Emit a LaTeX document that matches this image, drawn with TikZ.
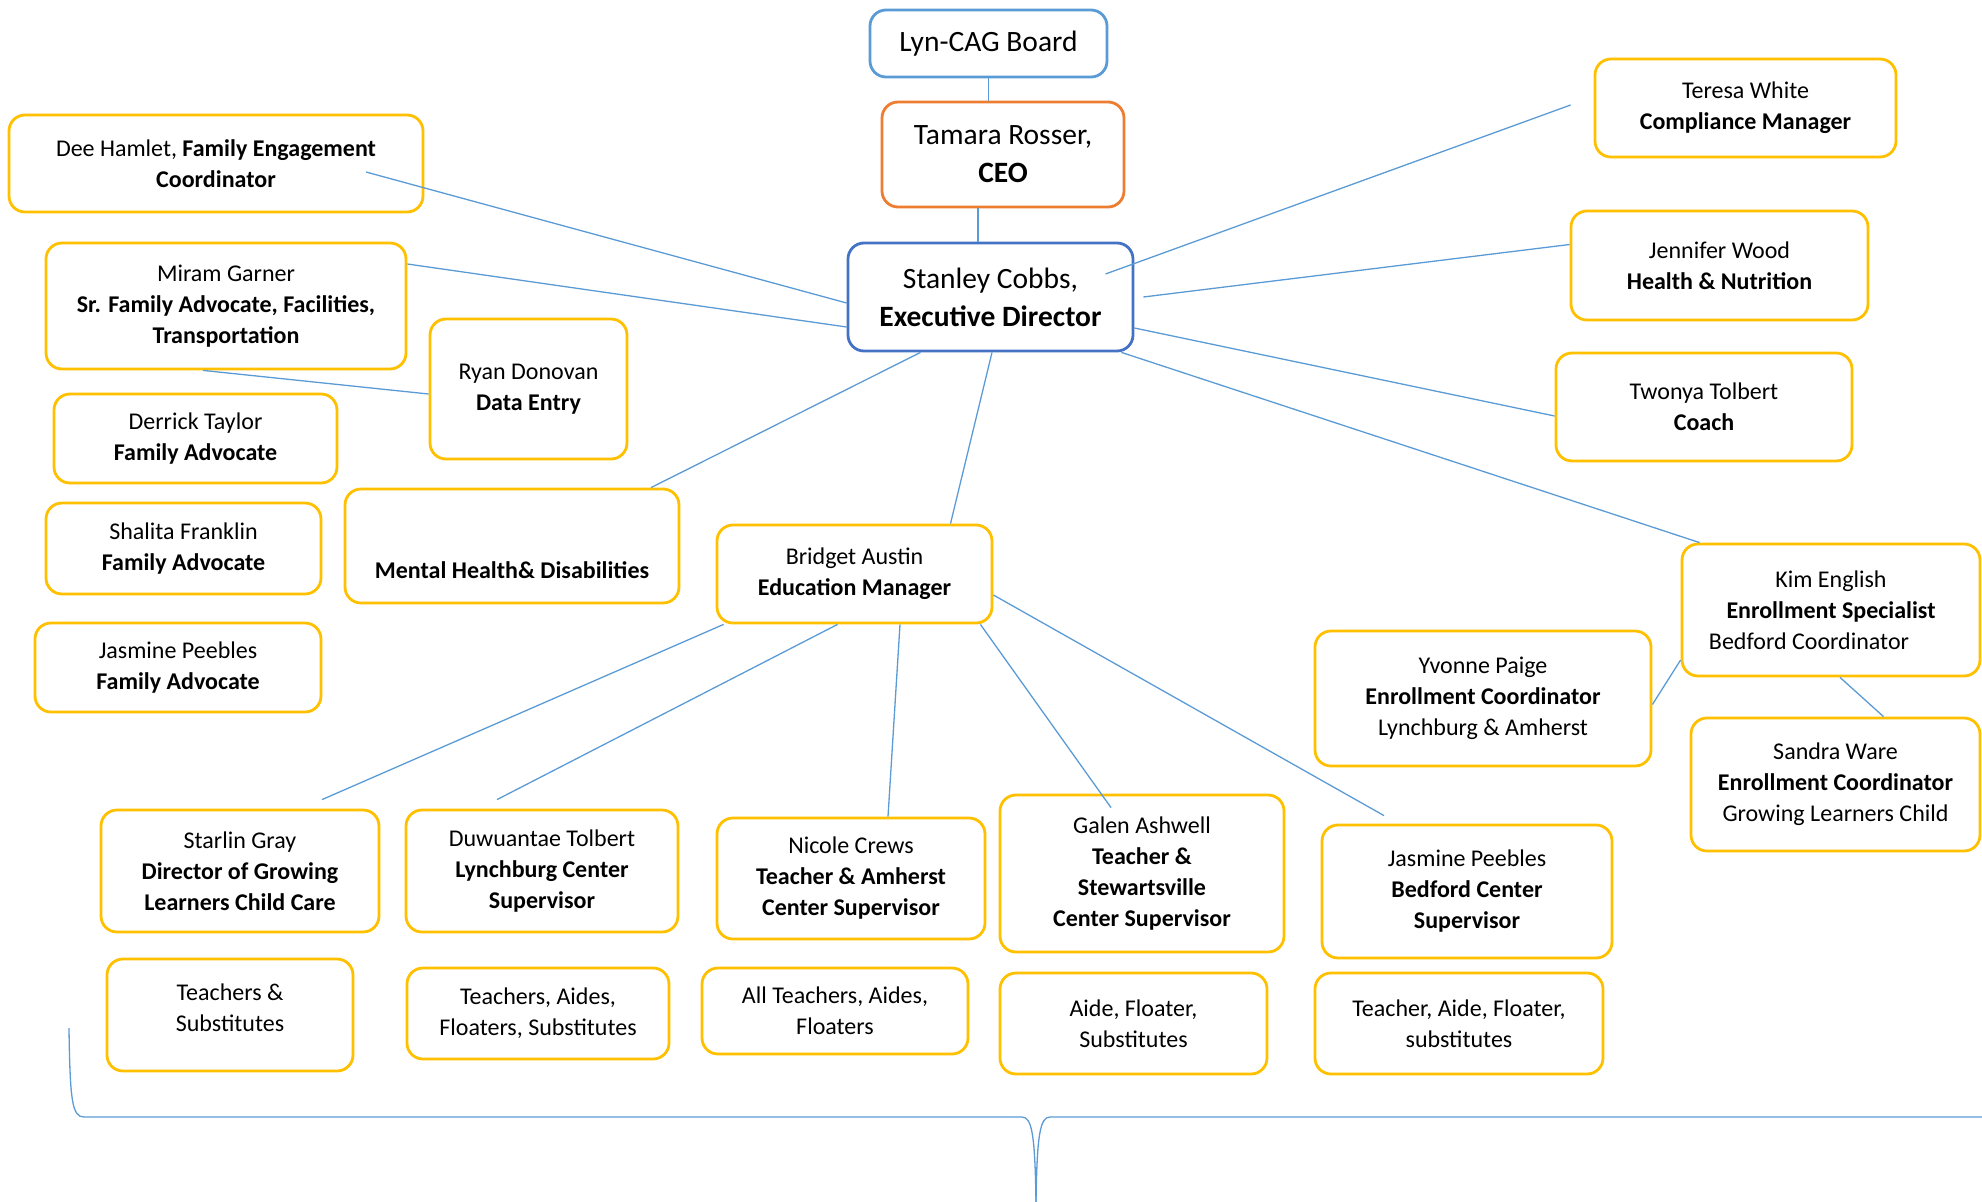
\documentclass[tikz,border=0pt]{standalone}
\usepackage{fontspec}
\setmainfont{Carlito}
\definecolor{gold}{HTML}{FFC000}
\definecolor{linkblue}{HTML}{5B9BD5}
\definecolor{execblue}{HTML}{4472C4}
\definecolor{ceoorange}{HTML}{ED7D31}

\begin{document}
\begin{tikzpicture}[x=1pt,y=-1pt,
  box/.style={draw=gold,line width=2.8pt,rounded corners=16pt,fill=white,align=center,inner sep=0pt,font=\fontsize{24}{31}\selectfont},
  bigbox/.style={box,font=\fontsize{29.5}{38}\selectfont},
  link/.style={draw=linkblue,line width=1.3pt}]
  \useasboundingbox (0,0) rectangle (1982,1202);

  % top of the chart
  \node[bigbox,draw=linkblue,minimum width=237pt,minimum height=67pt] (board) at (988.5,43.5) {Lyn-CAG Board};
  \node[bigbox,draw=ceoorange,minimum width=242pt,minimum height=105pt] (ceo) at (1003,154.5) {Tamara Rosser,\\\textbf{CEO}};
  \node[bigbox,draw=execblue,minimum width=285pt,minimum height=108pt] (exec) at (990.5,297) {Stanley Cobbs,\\\textbf{Executive Director}};

  % left column
  \node[box,minimum width=414pt,minimum height=97pt] (dee) at (216,163.5) {Dee Hamlet, \textbf{Family Engagement}\\\textbf{Coordinator}};
  \node[box,minimum width=360pt,minimum height=126pt] (miram) at (226,306) {Miram Garner\\\textbf{Sr. Family Advocate, Facilities,}\\\textbf{Transportation}};
  \node[box,minimum width=197pt,minimum height=140pt] (ryan) at (528.5,389) {Ryan Donovan\\\textbf{Data Entry}};
  \node[box,minimum width=283pt,minimum height=89pt] (derrick) at (195.5,438.5) {Derrick Taylor\\\textbf{Family Advocate}};
  \node[box,minimum width=275pt,minimum height=91pt] (shalita) at (183.5,548.5) {Shalita Franklin\\\textbf{Family Advocate}};
  \node[box,minimum width=286pt,minimum height=89pt] (jasfa) at (178,667.5) {Jasmine Peebles\\\textbf{Family Advocate}};
  \node[box,minimum width=334pt,minimum height=114pt] (mental) at (512,546) {\mbox{}\\\mbox{}\\[3pt]\textbf{Mental Health\& Disabilities}};

  % right column
  \node[box,minimum width=301pt,minimum height=98pt] (teresa) at (1745.5,108) {Teresa White\\\textbf{Compliance Manager}};
  \node[box,minimum width=297pt,minimum height=109pt] (jennifer) at (1719.5,265.5) {Jennifer Wood\\\textbf{Health \& Nutrition}};
  \node[box,minimum width=296pt,minimum height=108pt] (twonya) at (1704,407) {Twonya Tolbert\\\textbf{Coach}};
  \node[box,minimum width=298pt,minimum height=132pt] (kim) at (1831,610) {Kim English\\\textbf{Enrollment Specialist}\\Bedford Coordinator\hspace*{44pt}};
  \node[box,minimum width=336pt,minimum height=135pt] (yvonne) at (1483,698.5) {Yvonne Paige\\\textbf{Enrollment Coordinator}\\Lynchburg \& Amherst};
  \node[box,minimum width=289pt,minimum height=133pt] (sandra) at (1835.5,784.5) {Sandra Ware\\\textbf{Enrollment Coordinator}\\Growing Learners Child};

  % education
  \node[box,minimum width=275pt,minimum height=98pt] (bridget) at (854.5,574) {Bridget Austin\\\textbf{Education Manager}};
  \node[box,minimum width=278pt,minimum height=122pt] (starlin) at (240,871) {Starlin Gray\\\textbf{Director of Growing}\\\textbf{Learners Child Care}};
  \node[box,minimum width=272pt,minimum height=122pt] (duwu) at (542,871) {Duwuantae Tolbert\\\textbf{Lynchburg Center}\\\textbf{Supervisor}};
  \node[box,minimum width=268pt,minimum height=121pt] (nicole) at (851,878.5) {Nicole Crews\\\textbf{Teacher \& Amherst}\\\textbf{Center Supervisor}};
  \node[box,minimum width=284pt,minimum height=157pt] (galen) at (1142,873.5) {Galen Ashwell\\\textbf{Teacher \&}\\\textbf{Stewartsville}\\\textbf{Center Supervisor}};
  \node[box,minimum width=290pt,minimum height=133pt] (jasbed) at (1467,891.5) {Jasmine Peebles\\\textbf{Bedford Center}\\\textbf{Supervisor}};

  \node[box,minimum width=246pt,minimum height=112pt] (starlinstaff) at (230,1015) {Teachers \&\\Substitutes\\[-16pt]\mbox{}};
  \node[box,minimum width=262pt,minimum height=91pt] (duwustaff) at (538,1013.5) {Teachers, Aides,\\Floaters, Substitutes};
  \node[box,minimum width=266pt,minimum height=86pt] (nicolestaff) at (835,1011) {All Teachers, Aides,\\Floaters};
  \node[box,minimum width=267pt,minimum height=101pt] (galenstaff) at (1133.5,1023.5) {Aide, Floater,\\Substitutes};
  \node[box,minimum width=288pt,minimum height=101pt] (jasbedstaff) at (1459,1023.5) {Teacher, Aide, Floater,\\substitutes};

  % connectors
  \draw[link] (board.south) -- (board.south |- ceo.north);
  \draw[link] ([xshift=-25pt]ceo.south) -- ([xshift=-25pt]ceo.south |- exec.north);
  \draw[link] ([xshift=150pt,yshift=-8.5pt]dee.center) -- ([yshift=-6pt]exec.west);
  \draw[link] ([yshift=42pt]miram.east) -- ([yshift=-30pt]exec.west);
  \draw[link] ([xshift=-23pt]miram.south) -- ([yshift=-5pt]ryan.west);
  \draw[link] ([xshift=-70pt]exec.south) -- ([xshift=139pt]mental.north);
  \draw[link] ([xshift=1.5pt]exec.south) -- ([xshift=96pt]bridget.north);
  \draw[link] ([xshift=115pt,yshift=23pt]exec.center) -- ([xshift=-23pt,yshift=3pt]teresa.west);
  \draw[link] ([xshift=9pt]exec.east) -- ([yshift=21pt]jennifer.west);
  \draw[link] ([yshift=-31pt]exec.east) -- ([yshift=-9pt]twonya.west);
  \draw[link] ([xshift=-13pt]exec.south east) -- ([xshift=19pt]kim.north west);
  \draw[link] ([yshift=-50pt]kim.west) -- ([yshift=-6pt]yvonne.east);
  \draw[link] ([xshift=9pt]kim.south) -- ([xshift=48pt]sandra.north);
  \draw[link] ([xshift=8pt]bridget.south west) -- ([xshift=82pt,yshift=9pt]starlin.north);
  \draw[link] ([xshift=-17pt]bridget.south) -- ([xshift=-45pt,yshift=9pt]duwu.north);
  \draw[link] ([xshift=45.5pt]bridget.south) -- ([xshift=37pt]nicole.north);
  \draw[link] ([xshift=-13pt]bridget.south east) -- ([xshift=-31pt,yshift=-14pt]galen.north);
  \draw[link] ([yshift=-21pt]bridget.east) -- ([xshift=-83pt,yshift=8pt]jasbed.north);

  % brace under the centres
  \draw[link] (69,1028) .. controls (70,1100) and (72,1117) .. (84,1117) -- (1022,1117)
    .. controls (1032,1117) and (1035,1135) .. (1036,1202);
  \draw[link] (1036,1202) .. controls (1037,1135) and (1040,1117) .. (1050,1117) -- (1982,1117);
\end{tikzpicture}
\end{document}
